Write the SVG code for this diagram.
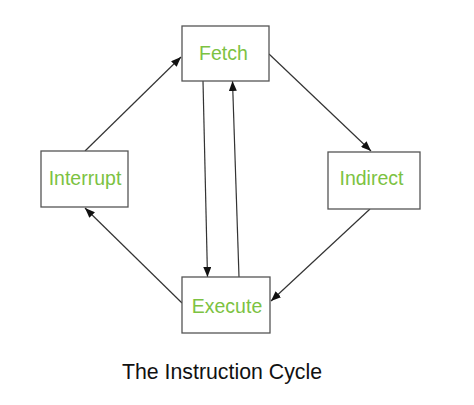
<svg xmlns="http://www.w3.org/2000/svg" width="474" height="405" viewBox="0 0 474 405">
<style>
.box{fill:#ffffff;stroke:#555555;stroke-width:1.3}
.lbl{font-family:"Liberation Sans",Arial,sans-serif;font-size:19.5px;fill:#7cc242;text-anchor:middle}
.edge{stroke:#333333;stroke-width:1.2;fill:none;marker-end:url(#ah)}
.title{font-family:"Liberation Sans",Arial,sans-serif;font-size:21.3px;fill:#111111;text-anchor:middle}
</style>
<defs>
<marker id="ah" viewBox="0 0 10 8" refX="10" refY="4" markerWidth="10" markerHeight="8" markerUnits="userSpaceOnUse" orient="auto">
<path d="M0,0 L10,4 L0,8 Z" fill="#111111"/>
</marker>
</defs>
<rect width="474" height="405" fill="#ffffff"/>
<g id="connectors">
<line class="edge" x1="85" y1="151" x2="181" y2="57"/>
<line class="edge" x1="269" y1="54" x2="371" y2="151"/>
<line class="edge" x1="370" y1="209" x2="271" y2="301"/>
<line class="edge" x1="182" y1="303" x2="85" y2="208"/>
<line class="edge" x1="203" y1="81" x2="207.5" y2="277"/>
<line class="edge" x1="239" y1="277" x2="232.5" y2="81"/>
</g>
<g id="fetch">
<rect class="box" x="182" y="26" width="87" height="55"/>
<text class="lbl" x="223.5" y="60">Fetch</text>
</g>
<g id="interrupt">
<rect class="box" x="41" y="151" width="87" height="56"/>
<text class="lbl" x="85" y="185">Interrupt</text>
</g>
<g id="indirect">
<rect class="box" x="328" y="152" width="92" height="57"/>
<text class="lbl" x="371.5" y="185">Indirect</text>
</g>
<g id="execute">
<rect class="box" x="182" y="277" width="88" height="56"/>
<text class="lbl" x="227" y="313">Execute</text>
</g>
<text class="title" x="222" y="379">The Instruction Cycle</text>
</svg>
